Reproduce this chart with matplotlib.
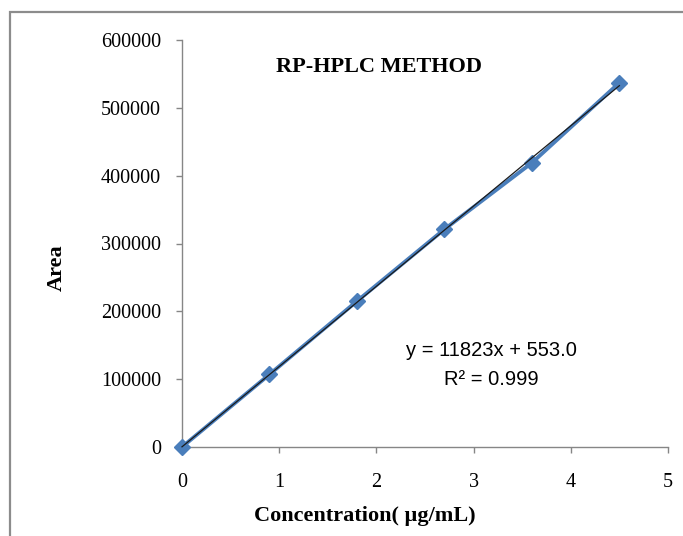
import matplotlib
matplotlib.use("Agg")
import matplotlib.pyplot as plt
from matplotlib.patches import Rectangle
import numpy as np

conc = [0, 0.9, 1.8, 2.7, 3.6, 4.5]
area = [0, 107000, 215000, 321000, 419000, 537000]
x_ticks = [0, 1, 2, 3, 4, 5]
y_ticks = [0, 100000, 200000, 300000, 400000, 500000, 600000]
title = "RP-HPLC METHOD"
xlabel = "Concentration( \u00b5g/mL)"
ylabel = "Area"
eq_text = "y = 11823x + 553.0"
r2_text = "R\u00b2 = 0.999"

W, H = 683, 536
fig = plt.figure(figsize=(W / 100, H / 100), dpi=100)
fig.patch.set_facecolor("white")

# outer chart-area frame
fig.patches.append(Rectangle((10 / W, -0.1), 1.2, 1.1 - 12 / H,
                             transform=fig.transFigure, fill=False,
                             edgecolor="#8c8c8c", lw=1.6, zorder=0))

ax = fig.add_axes([182 / W, 1 - 447 / H, (668 - 182) / W, (447 - 40) / H])
ax.set_xlim(0, 5)
ax.set_ylim(0, 600000)

grey = "#868686"
for s in ["top", "right"]:
    ax.spines[s].set_visible(False)
for s in ["left", "bottom"]:
    ax.spines[s].set_color(grey)
    ax.spines[s].set_linewidth(1.0)

serif = ["Liberation Serif", "DejaVu Serif"]
ax.set_xticks(x_ticks)
ax.set_yticks(y_ticks)
ax.set_xticklabels([str(t) for t in x_ticks], fontfamily=serif, fontsize=14.5)
ax.set_yticklabels([str(t) for t in y_ticks], fontfamily=serif, fontsize=14.5)
ax.tick_params(axis="both", direction="out", length=4, width=1.0, color=grey)
ax.tick_params(axis="y", pad=11)
ax.tick_params(axis="x", pad=15)

ax.plot(conc, area, color="#4a7ebb", lw=2.8, marker="D", markersize=8,
        markerfacecolor="#4a7ebb", markeredgecolor="#4a7ebb", zorder=3,
        clip_on=False)
# linear trendline fitted to the data
m, b = np.polyfit(conc, area, 1)
xs = np.array([conc[0], conc[-1]])
ax.plot(xs, m * xs + b, color="#1a1a1a", lw=0.9, zorder=4, clip_on=False)

ax.text(0.406, 0.934, title, transform=ax.transAxes, ha="center", va="center",
        fontfamily=serif, fontweight="bold", fontsize=16)
ax.text(0.636, 0.236, eq_text, transform=ax.transAxes, ha="center",
        va="center", fontfamily=["Liberation Sans", "DejaVu Sans"], fontsize=14.5)
ax.text(0.636, 0.165, r2_text, transform=ax.transAxes, ha="center",
        va="center", fontfamily=["Liberation Sans", "DejaVu Sans"], fontsize=14.5)

fig.text(365 / W, 1 - 516 / H, xlabel, ha="center", va="center",
         fontfamily=serif, fontweight="bold", fontsize=16)
fig.text(57 / W, 1 - 268 / H, ylabel, ha="center", va="center", rotation=90,
         fontfamily=serif, fontweight="bold", fontsize=16)

fig.savefig("out.png", dpi=100)
